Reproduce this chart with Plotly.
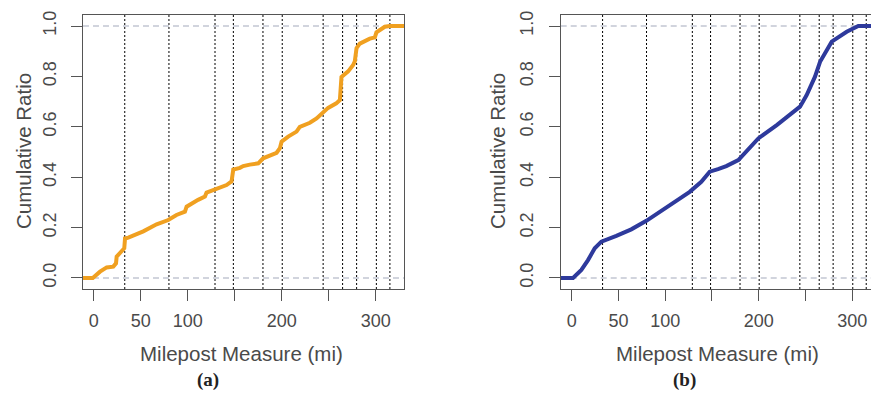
import plotly.graph_objects as go

# ---- data ----
a_mile = [-11.7, -1, 6.7, 13.8, 20.8, 23.7, 24.4, 29.7, 32.5, 33.3, 36.8, 52.7, 66.9, 79.3, 88, 97, 98.8,
          111, 118.3, 120, 129, 141.3, 146.6, 148.4, 155.5, 159, 166, 175, 180.2, 194.5, 198, 199.8,
          206.8, 215.7, 219.2, 229.9, 237, 244, 249.3, 258, 261.8, 263.5, 270.6, 275.9, 277.7,
          279.5, 283, 293.6, 299, 300.7, 304, 309.6, 314.9, 330.8]
a_ratio = [0, 0, 0.025, 0.042, 0.045, 0.058, 0.085, 0.105, 0.118, 0.157, 0.16, 0.185, 0.213, 0.23, 0.25,
           0.263, 0.283, 0.31, 0.323, 0.339, 0.352, 0.369, 0.383, 0.43, 0.437, 0.444, 0.45, 0.455,
           0.475, 0.497, 0.515, 0.541, 0.561, 0.581, 0.6, 0.616, 0.633, 0.66, 0.675, 0.693, 0.706,
           0.798, 0.82, 0.845, 0.86, 0.912, 0.93, 0.95, 0.955, 0.975, 0.985, 0.997, 1.0, 1.0]

b_mile = [-11.8, 1.4, 10.3, 17.4, 24.6, 31.7, 47.7, 63.7, 79.8, 92.3, 108.3, 126.2, 138.6, 147.6,
          156.5, 165.3, 178.2, 199.6, 219.3, 240.6, 244.2, 251.3, 260.2, 265.6, 278.1, 294.1, 306.5, 322]
b_ratio = [0, 0, 0.032, 0.071, 0.118, 0.144, 0.167, 0.193, 0.227, 0.257, 0.296, 0.342, 0.382, 0.422,
           0.432, 0.444, 0.468, 0.554, 0.607, 0.667, 0.68, 0.726, 0.799, 0.858, 0.938, 0.977, 1.0, 1.0]

segment_miles = [33, 80, 129, 148.5, 180, 200.5, 244, 264.7, 279.6, 300.6, 315]

x_tickvals = [0, 50, 100, 150, 200, 250, 300]
x_ticktext = ["0", "50", "100", "", "200", "", "300"]
y_tickvals = [0.0, 0.2, 0.4, 0.6, 0.8, 1.0]
y_ticktext = ["0.0", "0.2", "0.4", "0.6", "0.8", "1.0"]

ORANGE = "#F0A020"
BLUE = "#2E3A9C"
TXT = "#4a4a4a"
FRAME = "#555555"
FONT = "Liberation Sans, Arial, sans-serif"

W, H = 871, 393
fig = go.Figure()
fig.add_trace(go.Scatter(x=a_mile, y=a_ratio, mode="lines", line=dict(color=ORANGE, width=4),
                         xaxis="x", yaxis="y", showlegend=False))
fig.add_trace(go.Scatter(x=b_mile, y=b_ratio, mode="lines", line=dict(color=BLUE, width=4),
                         xaxis="x2", yaxis="y2", showlegend=False))

ydom = [(H - 289) / H, (H - 15) / H]
common_x = dict(tickvals=x_tickvals, ticktext=x_ticktext, ticks="outside", ticklen=11, tickwidth=1,
                tickcolor=FRAME, showline=True, linecolor=FRAME, linewidth=1.3, mirror=True,
                showgrid=False, zeroline=False, tickfont=dict(family=FONT, size=18, color=TXT),
                ticklabelstandoff=4, automargin=False)
common_y = dict(range=[-0.0437, 1.0437], tickvals=y_tickvals, ticktext=y_ticktext, ticks="outside",
                ticklen=11, tickwidth=1, tickcolor=FRAME, showline=True, linecolor=FRAME, linewidth=1.3,
                showgrid=False, zeroline=False, tickangle=-90, ticklabelstandoff=8,
                tickfont=dict(family=FONT, size=18, color=TXT), automargin=False, domain=ydom)

fig.update_layout(
    width=W, height=H, margin=dict(l=0, r=0, t=0, b=0),
    paper_bgcolor="white", plot_bgcolor="white",
    xaxis=dict(domain=[83 / W, 404 / W], range=[-11.4, 330.0], anchor="y", **common_x),
    yaxis=dict(anchor="x", mirror=True, **common_y),
    xaxis2=dict(domain=[560.7 / W, 1.0], range=[-11.8, 320.1], anchor="y2", **common_x),
    yaxis2=dict(anchor="x2", mirror=False, **common_y),
)

shapes = []
for xr, yr in (("x", "y"), ("x2", "y2")):
    for m in segment_miles:
        shapes.append(dict(type="line", xref=xr, yref=yr + " domain", x0=m, x1=m, y0=0, y1=1,
                           line=dict(color="black", width=1, dash="2px,2px"), layer="below"))
    for v in (0.0, 1.0):
        shapes.append(dict(type="line", xref=xr + " domain", yref=yr, x0=0, x1=1, y0=v, y1=v,
                           line=dict(color="#A3AABB", width=1.2, dash="6px,4px"), layer="below"))
fig.update_layout(shapes=shapes)

ann = []
for cx in (241.5, 717):
    ann.append(dict(text="Milepost Measure (mi)", x=cx / W, y=(H - 353) / H, xref="paper", yref="paper",
                    showarrow=False, xanchor="center", yanchor="middle",
                    font=dict(family=FONT, size=20.5, color=TXT)))
for cx in (23, 497):
    ann.append(dict(text="Cumulative Ratio", x=cx / W, y=(H - 151) / H, xref="paper", yref="paper",
                    showarrow=False, xanchor="center", yanchor="middle", textangle=-90,
                    font=dict(family=FONT, size=20.5, color=TXT)))
for cx, lab in ((207.5, "(a)"), (684, "(b)")):
    ann.append(dict(text="<b>" + lab + "</b>", x=cx / W, y=(H - 392) / H, xref="paper", yref="paper",
                    showarrow=False, xanchor="center", yanchor="bottom", borderpad=0,
                    font=dict(family="Liberation Serif, Times New Roman, serif", size=19, color="#222")))
fig.update_layout(annotations=ann)

fig.write_html("out.html")
